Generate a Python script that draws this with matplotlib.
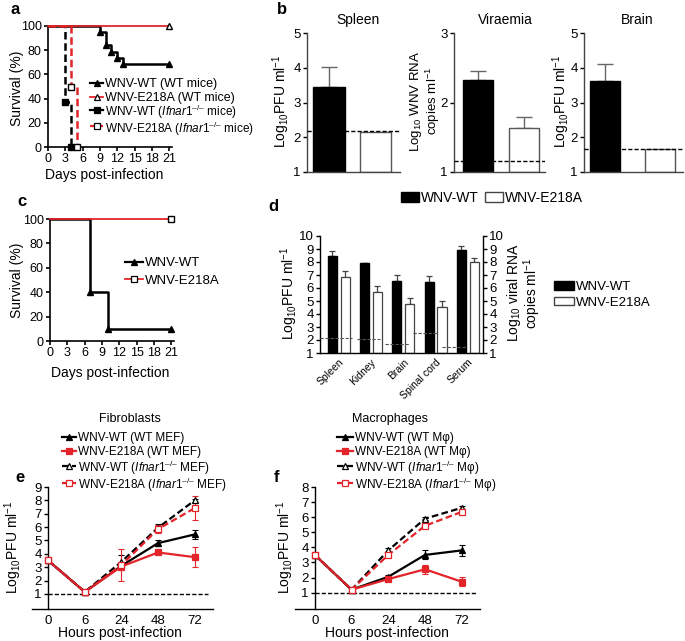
import matplotlib
matplotlib.use('Agg')
import matplotlib.pyplot as plt
from matplotlib.patches import Patch
from matplotlib.lines import Line2D

plt.rcParams['font.family'] = ['Liberation Sans', 'DejaVu Sans']
plt.rcParams['mathtext.fontset'] = 'custom'
plt.rcParams['mathtext.rm'] = 'Liberation Sans'
plt.rcParams['mathtext.it'] = 'Liberation Sans:italic'
plt.rcParams['mathtext.bf'] = 'Liberation Sans:bold'

RED = '#e3242b'
DASH = (0, (3, 1.5))
W, H = 685, 641
KO = r'$\mathit{Ifnar1}^{–/–}$'
PFU = r'Log$_{10}$PFU ml$^{-1}$'

# ---- data ----
# a: survival, WT and Ifnar1-/- mice
a_wt_days = [0, 9, 10, 11, 12, 13, 21]
a_wt_surv = [100, 94.7, 84.2, 78.9, 73.7, 68.4, 68.4]
a_mut_days = [0, 21]
a_mut_surv = [100, 100]
a_kowt_days = [0, 3, 4]
a_kowt_surv = [100, 37, 0]
a_komut_days = [0, 4, 5]
a_komut_surv = [100, 50, 0]

# b: spleen / viraemia / brain
b_titles = ['Spleen', 'Viraemia', 'Brain']
b_wt = [3.46, 2.32, 3.62]
b_wt_err = [0.56, 0.13, 0.48]
b_mut = [2.16, 1.64, 1.65]
b_mut_err = [0, 0.15, 0]
b_limit = [2.18, 1.16, 1.66]
b_ytop = [5, 3, 5]

# c: survival
c_wt_days = [0, 7, 10, 21]
c_wt_surv = [100, 40, 10, 10]
c_mut_days = [0, 21]
c_mut_surv = [100, 100]

# d: tissues
d_tissues = ['Spleen', 'Kidney', 'Brain', 'Spinal cord', 'Serum']
d_wt = [8.46, 7.9, 6.56, 6.44, 8.92]
d_wt_err = [0.41, 0.05, 0.44, 0.48, 0.29]
d_mut = [6.87, 5.72, 4.77, 4.51, 8.0]
d_mut_err = [0.44, 0.43, 0.46, 0.51, 0.28]
d_limit = [2.13, 2.1, 1.67, 2.54, 1.49]
d_limit_lo = [-0.58, -0.43, -0.57, -0.7, -0.8]
d_limit_hi = [0.41, 0.28, 0.17, 0.07, -0.03]

# e/f: growth curves
hours = ['0', '6', '24', '48', '72']
e_wt = [3.5, 1.15, 3.1, 4.8, 5.45]
e_wt_err = [0, 0, 0.1, 0.25, 0.35]
e_mut = [3.5, 1.15, 3.05, 4.1, 3.75]
e_mut_err = [0, 0, 0.1, 0.12, 0.75]
e_kowt = [3.5, 1.15, 3.4, 5.95, 8.0]
e_kowt_err = [0, 0, 0.5, 0.25, 0.1]
e_komut = [3.5, 1.15, 3.15, 5.85, 7.42]
e_komut_err = [0, 0, 1.2, 0.3, 0.9]

f_wt = [3.5, 1.2, 2.05, 3.5, 3.8]
f_wt_err = [0, 0, 0.15, 0.3, 0.35]
f_mut = [3.5, 1.2, 1.9, 2.55, 1.73]
f_mut_err = [0, 0, 0.15, 0.3, 0.3]
f_kowt = [3.5, 1.2, 3.8, 5.9, 6.62]
f_kowt_err = [0, 0, 0.15, 0.1, 0.1]
f_komut = [3.5, 1.2, 3.5, 5.43, 6.35]
f_komut_err = [0, 0, 0.15, 0.1, 0.1]
ef_limit = 1.0

fig = plt.figure(figsize=(W / 100, H / 100), dpi=100)


def ax_px(l, t, r, b):
    return fig.add_axes([l / W, 1 - b / H, (r - l) / W, (b - t) / H])


def txt(x, y, s, **kw):
    kw.setdefault('ha', 'center')
    kw.setdefault('va', 'center')
    fig.text(x / W, 1 - y / H, s, **kw)


def style(ax, lw=1.0, size=9):
    for s in ['top', 'right']:
        ax.spines[s].set_visible(False)
    for s in ['left', 'bottom']:
        ax.spines[s].set_linewidth(lw)
    ax.tick_params(direction='out', length=3, width=lw, labelsize=size, pad=1.5)


def fig_anchor(x, y):
    return (x / W, 1 - y / H)


def key_row(x0, x1, y, label, color, ls, marker, mfc, mec, fs=8.5, lw=1.6, ms=5):
    # one legend entry drawn in figure pixels
    fig.add_artist(Line2D([x0 / W, x1 / W], [1 - y / H] * 2, color=color, ls=ls, lw=lw))
    fig.add_artist(Line2D([(x0 + x1) / 2 / W], [1 - y / H], ls='none', marker=marker,
                          ms=ms, mfc=mfc, mec=mec, mew=0.9))
    txt(x1 + 2, y, label, ha='left', va='center_baseline', fontsize=fs)


# ---- a ----
ax = ax_px(48, 26, 172, 147)
ax.plot(a_wt_days, a_wt_surv, color='black', lw=1.8, drawstyle='steps-post', marker='^',
        ms=5, markevery=slice(1, None), clip_on=False, zorder=3)
ax.plot(a_mut_days, a_mut_surv, color=RED, lw=1.3, marker='^', mfc='white', mec='black',
        ms=5, markevery=[1], clip_on=False, zorder=5)
ax.plot(a_kowt_days, a_kowt_surv, color='black', lw=1.8, ls=DASH, drawstyle='steps-post',
        marker='s', ms=5, markevery=slice(1, None), clip_on=False, zorder=4)
ax.plot(a_komut_days, a_komut_surv, color=RED, lw=1.8, ls=DASH, drawstyle='steps-post',
        marker='s', ms=5, mfc='white', mec='black', markevery=slice(1, None), clip_on=False,
        zorder=4)
ax.set_xlim(0, 21.5)
ax.set_ylim(0, 100)
ax.set_xticks(range(0, 22, 3))
ax.set_yticks(range(0, 101, 20))
style(ax, 1.2)
key_row(90, 103, 82.5, 'WNV-WT (WT mice)', 'black', '-', '^', 'black', 'black', fs=9)
key_row(90, 103, 96.5, 'WNV-E218A (WT mice)', RED, '-', '^', 'white', 'black', fs=9, lw=1.3)
key_row(90, 103, 109.5, 'WNV-WT (' + KO + ' mice)', 'black', '-', 's', 'black', 'black')
key_row(90, 103, 126, 'WNV-E218A (' + KO + ' mice)', RED, DASH, 's', 'white', 'black')
txt(17, 88, 'Survival (%)', rotation=90, fontsize=10)
txt(104, 175, 'Days post-infection', fontsize=10)
txt(15, 10, 'a', fontsize=12, fontweight='bold')

# ---- b ----
b_boxes = [(307, 400), (454, 545), (584, 683)]
b_xlims = [(-0.47, 1.53), (-0.53, 1.47), (-0.38, 1.42)]
b_widths = [0.68, 0.66, 0.55]
for i in range(3):
    ax = ax_px(b_boxes[i][0], 33, b_boxes[i][1], 172)
    wdt = b_widths[i]
    ax.bar([0], [b_wt[i] - 1], bottom=1, width=wdt, color='black', edgecolor='black', zorder=2)
    ax.bar([1], [b_mut[i] - 1], bottom=1, width=wdt, color='white', edgecolor='#555555', lw=1, zorder=2)
    ax.errorbar([0], [b_wt[i]], yerr=[[0], [b_wt_err[i]]], fmt='none', ecolor='#666666',
                elinewidth=1, capsize=6, capthick=1, zorder=1)
    if b_mut_err[i] > 0:
        ax.errorbar([1], [b_mut[i]], yerr=[[0], [b_mut_err[i]]], fmt='none', ecolor='#666666',
                    elinewidth=1, capsize=6, capthick=1, zorder=1)
    ax.axhline(b_limit[i], color='black', lw=1, ls=DASH, zorder=3)
    ax.set_xlim(*b_xlims[i])
    ax.set_ylim(1, b_ytop[i])
    ax.set_yticks(range(1, b_ytop[i] + 1))
    ax.set_xticks([])
    style(ax, 1.0, 9.5)
    for s in ['left', 'bottom']:
        ax.spines[s].set_color('#444444')
txt(358, 20, b_titles[0], fontsize=10)
txt(505, 20, b_titles[1], fontsize=10)
txt(637, 20, b_titles[2], fontsize=10)
txt(281, 101, PFU, rotation=90, fontsize=10)
txt(425, 101, 'Log$_{10}$ WNV RNA\ncopies ml$^{-1}$', rotation=90, fontsize=9.5, linespacing=0.95)
txt(561, 101, PFU, rotation=90, fontsize=10)
txt(282, 10, 'b', fontsize=12, fontweight='bold')

fig.legend([Patch(facecolor='black', edgecolor='black'),
            Patch(facecolor='white', edgecolor='#444444')],
           ['WNV-WT', 'WNV-E218A'], loc='center', bbox_to_anchor=fig_anchor(492, 198),
           ncol=2, frameon=False, fontsize=10, handlelength=1.3, handleheight=0.7,
           handletextpad=0.1, columnspacing=0.5, borderpad=0)

# ---- c ----
ax = ax_px(50, 219, 174, 341)
ax.plot(c_wt_days, c_wt_surv, color='black', lw=1.8, drawstyle='steps-post', marker='^',
        ms=5, markevery=slice(1, None), clip_on=False, zorder=3)
ax.plot(c_mut_days, c_mut_surv, color=RED, lw=1.3, marker='s', mfc='white', mec='black',
        ms=5, markevery=[1], clip_on=False, zorder=4)
ax.set_xlim(0, 21.5)
ax.set_ylim(0, 100)
ax.set_xticks(range(0, 22, 3))
ax.set_yticks(range(0, 101, 20))
style(ax, 1.2)
key_row(125, 143, 262, 'WNV-WT', 'black', '-', '^', 'black', 'black', fs=9.5)
key_row(125, 143, 279, 'WNV-E218A', RED, '-', 's', 'white', 'black', fs=9.5, lw=1.3)
txt(17, 280, 'Survival (%)', rotation=90, fontsize=10)
txt(110, 373, 'Days post-infection', fontsize=10)
txt(22, 202, 'c', fontsize=12, fontweight='bold')

# ---- d ----
ax = ax_px(320, 236, 483, 353)
x = list(range(len(d_tissues)))
xw = [i - 0.2 for i in x]
xm = [i + 0.2 for i in x]
ax.bar(xw, [v - 1 for v in d_wt], bottom=1, width=0.28, color='black', edgecolor='black', zorder=2)
ax.bar(xm, [v - 1 for v in d_mut], bottom=1, width=0.28, color='white', edgecolor='#444444',
       lw=0.9, zorder=2)
ax.errorbar(xw, d_wt, yerr=[[0] * 5, d_wt_err], fmt='none', ecolor='#444444', elinewidth=0.9,
            capsize=2.2, capthick=0.9, zorder=1)
ax.errorbar(xm, d_mut, yerr=[[0] * 5, d_mut_err], fmt='none', ecolor='#444444', elinewidth=0.9,
            capsize=2.2, capthick=0.9, zorder=1)
for i in x:
    ax.plot([i + d_limit_lo[i], i + d_limit_hi[i]], [d_limit[i]] * 2, color='#555555',
            lw=0.8, ls=DASH, zorder=3)
ax.set_xlim(-0.58, 4.47)
ax.set_ylim(1, 10)
ax.set_yticks(range(1, 11))
ax.set_xticks(x)
ax.set_xticklabels(d_tissues, rotation=45, ha='right', rotation_mode='anchor')
style(ax, 1.0, 9.5)
ax.tick_params(axis='x', length=0, labelsize=7.5, pad=3)
ax2 = ax.twinx()
ax2.set_ylim(1, 10)
ax2.set_yticks(range(1, 11))
for s in ['top', 'left', 'bottom']:
    ax2.spines[s].set_visible(False)
ax2.spines['right'].set_linewidth(1.0)
ax2.tick_params(direction='out', length=3, width=1.0, labelsize=9.5, pad=1.5)
txt(289, 293, PFU, rotation=90, fontsize=10)
txt(524, 293, 'Log$_{10}$ viral RNA\ncopies ml$^{-1}$', rotation=90, fontsize=10, linespacing=0.95)
txt(273, 207, 'd', fontsize=12, fontweight='bold')
ax.legend([Patch(facecolor='black', edgecolor='black'),
           Patch(facecolor='white', edgecolor='#444444')],
          ['WNV-WT', 'WNV-E218A'], loc='upper left', bbox_to_anchor=fig_anchor(554, 281),
          bbox_transform=fig.transFigure, frameon=False, fontsize=9.5, handlelength=1.5,
          handleheight=0.6, handletextpad=0.2, labelspacing=0.3, borderpad=0, borderaxespad=0)


# ---- e / f ----
def growth(box, xlim, ybottom, ymax, series, limit_end, key_x):
    ax = ax_px(*box)
    xs = list(range(len(hours)))
    rows = [437, 451, 465.5, 482.5]
    for (vals, err, col, ls, mk, mfc, lab), ry in zip(series, rows):
        ax.errorbar(xs, vals, yerr=err, fmt='none', ecolor=col, elinewidth=0.8,
                    capsize=2.5, capthick=0.8, zorder=2)
        ax.plot(xs, vals, color=col, lw=1.6, ls=ls, marker=mk, ms=4.5, mfc=mfc,
                mec=col, mew=0.9, zorder=3)
        key_row(key_x[0], key_x[1], ry, lab, col, ls, mk, mfc, col, ms=4.5)
    ax.plot([0, limit_end], [ef_limit, ef_limit], color='black', lw=1, ls=DASH, zorder=1)
    ax.set_xlim(*xlim)
    ax.set_ylim(ybottom, ymax)
    ax.set_xticks(xs)
    ax.set_xticklabels(hours)
    ax.set_yticks(range(1, ymax + 1))
    style(ax, 1.0, 9.5)
    ax.spines['left'].set_position(('data', 0))
    ax.tick_params(axis='x', length=0, pad=4)
    return ax


e_series = [
    (e_wt, e_wt_err, 'black', '-', '^', 'black', 'WNV-WT (WT MEF)'),
    (e_mut, e_mut_err, RED, '-', 's', RED, 'WNV-E218A (WT MEF)'),
    (e_kowt, e_kowt_err, 'black', DASH, '^', 'white', 'WNV-WT (' + KO + ' MEF)'),
    (e_komut, e_komut_err, RED, DASH, 's', 'white', 'WNV-E218A (' + KO + ' MEF)'),
]
growth((32, 487, 213, 609), (-0.44, 4.5), -0.13, 9, e_series, 4.36, (62, 76))
f_series = [
    (f_wt, f_wt_err, 'black', '-', '^', 'black', 'WNV-WT (WT Mφ)'),
    (f_mut, f_mut_err, RED, '-', 's', RED, 'WNV-E218A (WT Mφ)'),
    (f_kowt, f_kowt_err, 'black', DASH, '^', 'white', 'WNV-WT (' + KO + ' Mφ)'),
    (f_komut, f_komut_err, RED, DASH, 's', 'white', 'WNV-E218A (' + KO + ' Mφ)'),
]
growth((295, 487, 480, 609), (-0.54, 4.5), -0.08, 8, f_series, 4.41, (337, 353))
txt(130, 419, 'Fibroblasts', fontsize=9)
txt(390, 419, 'Macrophages', fontsize=9)
txt(13, 547, PFU, rotation=90, fontsize=10)
txt(285, 547, PFU, rotation=90, fontsize=10)
txt(120, 633, 'Hours post-infection', fontsize=10)
txt(387, 633, 'Hours post-infection', fontsize=10)
txt(20, 477, 'e', fontsize=12, fontweight='bold')
txt(276, 477, 'f', fontsize=12, fontweight='bold')

fig.savefig('out.png', dpi=100)
